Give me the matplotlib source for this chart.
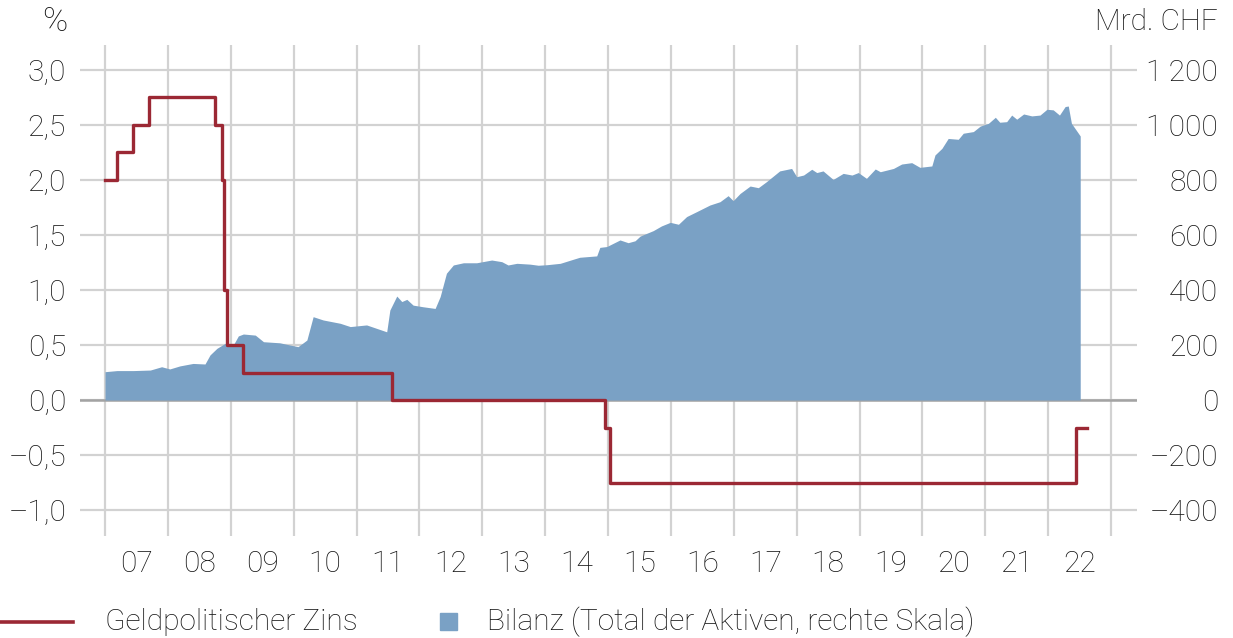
import matplotlib
matplotlib.use("Agg")
import matplotlib.pyplot as plt
from matplotlib.lines import Line2D
from matplotlib.patches import Rectangle

plt.rcParams['font.family'] = ['Roboto', 'DejaVu Sans']
plt.rcParams['font.weight'] = 'light'

# ---------------- data ----------------
years = list(range(2007, 2024))
year_labels = ['07', '08', '09', '10', '11', '12', '13', '14', '15', '16', '17', '18', '19', '20', '21', '22']

rate_dates = [2007.00, 2007.19, 2007.45, 2007.70, 2008.75, 2008.86, 2008.89, 2008.94,
              2009.19, 2011.56, 2014.95, 2015.03, 2022.45, 2022.61]
rate_values = [2.00, 2.25, 2.50, 2.75, 2.50, 2.00, 1.00, 0.50,
               0.25, 0.00, -0.25, -0.75, -0.25, -0.25]

bal_dates = [2007.00, 2007.19, 2007.45, 2007.72, 2007.90, 2008.03, 2008.19, 2008.40, 2008.59, 2008.67,
             2008.78, 2008.91, 2009.04, 2009.12, 2009.20, 2009.39, 2009.52, 2009.78, 2009.94, 2010.07,
             2010.21, 2010.31, 2010.47, 2010.74, 2010.90, 2011.16, 2011.48, 2011.53, 2011.64, 2011.72,
             2011.80, 2011.90, 2012.06, 2012.25, 2012.33, 2012.43, 2012.54, 2012.70, 2012.91, 2013.15,
             2013.31, 2013.41, 2013.55, 2013.76, 2013.89, 2014.03, 2014.24, 2014.45, 2014.55, 2014.82,
             2014.87, 2014.98, 2015.19, 2015.32, 2015.43, 2015.51, 2015.72, 2015.85, 2015.99, 2016.12,
             2016.25, 2016.41, 2016.62, 2016.78, 2016.91, 2016.99, 2017.10, 2017.26, 2017.39, 2017.52,
             2017.73, 2017.92, 2018.00, 2018.11, 2018.24, 2018.32, 2018.42, 2018.58, 2018.74, 2018.88,
             2018.98, 2019.11, 2019.25, 2019.33, 2019.54, 2019.67, 2019.83, 2019.96, 2020.15, 2020.20,
             2020.31, 2020.41, 2020.57, 2020.65, 2020.81, 2020.92, 2021.05, 2021.16, 2021.23, 2021.34,
             2021.42, 2021.50, 2021.61, 2021.74, 2021.87, 2021.98, 2022.08, 2022.18, 2022.27, 2022.32,
             2022.37, 2022.48, 2022.51]
bal_values = [103, 107, 107, 109, 121, 113, 124, 133, 131, 164,
              188, 206, 200, 233, 240, 236, 212, 208, 200, 194,
              218, 303, 291, 279, 267, 273, 248, 327, 378, 358,
              366, 345, 339, 333, 376, 461, 491, 499, 499, 509,
              503, 491, 497, 494, 490, 492, 497, 512, 519, 524,
              555, 558, 582, 572, 579, 596, 616, 633, 646, 639,
              667, 685, 709, 721, 743, 725, 751, 778, 772, 794,
              833, 842, 812, 818, 839, 827, 833, 802, 824, 818,
              827, 806, 840, 830, 842, 858, 863, 846, 851, 891,
              915, 951, 948, 970, 976, 996, 1006, 1028, 1010, 1012,
              1036, 1021, 1040, 1033, 1036, 1057, 1055, 1036, 1067, 1069,
              1006, 970, 960]

left_ticks = [-1.0, -0.5, 0.0, 0.5, 1.0, 1.5, 2.0, 2.5, 3.0]
left_labels = ['–1,0', '–0,5', '0,0', '0,5', '1,0', '1,5', '2,0', '2,5', '3,0']
right_ticks = [-400, -200, 0, 200, 400, 600, 800, 1000, 1200]
right_labels = ['–400', '–200', '0', '200', '400', '600', '800', '1\u2009000', '1\u2009200']

# ---------------- style ----------------
RED = '#9b2834'
BLUE = '#7aa1c5'
GRID = '#d2d2d2'
TXT = '#141414'
FS = 21.5

fig = plt.figure(figsize=(12.33, 6.38), dpi=100)
L, R, B, T = 80 / 1233, 1137 / 1233, 1 - 536 / 638, 1 - 45 / 638
ax = fig.add_axes([L, B, R - L, T - B])
ax2 = ax.twinx()
ax3 = ax.twinx()

xlim = (2006.602, 2023.413)
ylim = (-1.236, 3.227)
scale = 400.0

for a in (ax, ax2, ax3):
    for s in a.spines.values():
        s.set_visible(False)
    a.patch.set_visible(False)

ax.set_xlim(*xlim)
ax.set_ylim(*ylim)
ax2.set_ylim(ylim[0] * scale, ylim[1] * scale)
ax3.set_ylim(*ylim)

# grid on bottom axis
ax.set_xticks(years)
ax.set_xticklabels([])
ax.set_xticks([y + 0.5 for y in years[:-1]], minor=True)
ax.set_xticklabels(year_labels, minor=True)
ax.tick_params(axis='x', which='both', length=0)
ax.tick_params(axis='x', which='minor', pad=10, labelsize=FS, labelcolor=TXT)
ax.grid(True, axis='x', which='major', color=GRID, linewidth=1.6)
ax.set_yticks(left_ticks)
ax.set_yticklabels(left_labels)
ax.tick_params(axis='y', length=0, pad=10, labelsize=FS, labelcolor=TXT)
ax.grid(True, axis='y', color=GRID, linewidth=1.6)
ax.axhline(0, color='#a3a3a3', linewidth=1.8, zorder=2)
ax.set_axisbelow(True)

# balance fill
ax2.fill_between(bal_dates, 0, bal_values, color=BLUE, linewidth=0, zorder=3)
ax2.set_yticks(right_ticks)
ax2.set_yticklabels(right_labels, ha='right')
ax2.tick_params(axis='y', length=0, pad=58.5, labelsize=FS, labelcolor=TXT)

# policy rate
ax3.step(rate_dates, rate_values, where='post', color=RED, linewidth=2.4, zorder=5)
ax3.set_yticks([])

# unit labels
fig.text(67 / 1233, 1 - 22 / 638, '%', ha='right', va='center', fontsize=FS + 3, color=TXT)
fig.text(1218 / 1233, 1 - 22 / 638, 'Mrd. CHF', ha='right', va='center', fontsize=FS, color=TXT)

# legend
ly = 1 - 622 / 638
fig.add_artist(Line2D([0 / 1233, 73 / 1233], [ly, ly], color=RED, linewidth=2.6,
                      transform=fig.transFigure))
fig.text(105 / 1233, ly, 'Geldpolitischer Zins', ha='left', va='center', fontsize=FS, color=TXT)
fig.add_artist(Rectangle((440 / 1233, 1 - 630 / 638), 17 / 1233, 17 / 638, color=BLUE,
                         transform=fig.transFigure))
fig.text(487 / 1233, ly, 'Bilanz (Total der Aktiven, rechte Skala)', ha='left', va='center',
         fontsize=FS, color=TXT)

fig.savefig('out.png', dpi=100)
